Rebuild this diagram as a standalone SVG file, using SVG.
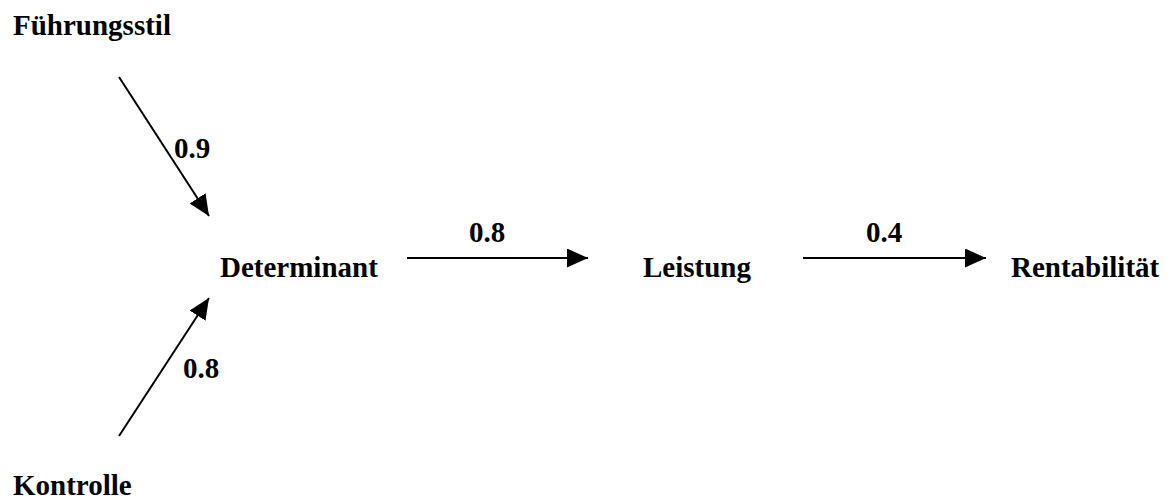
<svg xmlns="http://www.w3.org/2000/svg" width="1169" height="499" viewBox="0 0 1169 499">
  <style>
    .lbl { font-family: 'Liberation Serif', 'DejaVu Serif', serif; font-weight: 700; font-size: 29px; fill: #000; }
    .edge { stroke: #000; stroke-width: 2; fill: none; marker-end: url(#head); }
  </style>
  <defs>
    <marker id="head" viewBox="0 0 21 19" refX="21" refY="9.5" markerWidth="21" markerHeight="19" markerUnits="userSpaceOnUse" orient="auto">
      <path d="M0,0 L21,9.5 L0,19 Z" fill="#000"/>
    </marker>
  </defs>
  <rect width="1169" height="499" fill="#fff"/>

  <g id="connectors">
    <line class="edge" x1="119" y1="77" x2="209" y2="216"/>
    <line class="edge" x1="119" y1="436" x2="209" y2="298"/>
    <line class="edge" x1="407" y1="258" x2="588" y2="258"/>
    <line class="edge" x1="803" y1="258" x2="986" y2="258"/>
    <text class="lbl" x="174" y="158">0.9</text>
    <text class="lbl" x="183" y="378">0.8</text>
    <text class="lbl" x="469" y="242">0.8</text>
    <text class="lbl" x="866" y="242">0.4</text>
  </g>

  <g id="fuehrungsstil"><text class="lbl" x="13" y="35">Führungsstil</text></g>
  <g id="kontrolle"><text class="lbl" x="13" y="495">Kontrolle</text></g>
  <g id="determinant"><text class="lbl" x="220" y="277">Determinant</text></g>
  <g id="leistung"><text class="lbl" x="643" y="277">Leistung</text></g>
  <g id="rentabilitaet"><text class="lbl" x="1011" y="277">Rentabilität</text></g>
</svg>
